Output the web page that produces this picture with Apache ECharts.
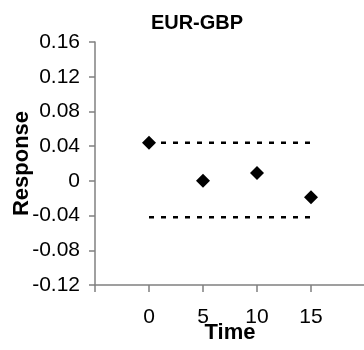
<!DOCTYPE html>
<html>
<head>
<meta charset="utf-8">
<script src="https://cdn.jsdelivr.net/npm/echarts@6/dist/echarts.min.js"></script>
<style>
html,body{margin:0;padding:0;background:#fff;}
#chart{width:364px;height:350px;}
</style>
</head>
<body>
<div id="chart"></div>
<script>
// Data
var times = [0, 5, 10, 15];
var responses = [0.044, 0.0, 0.009, -0.019];
var upperBand = [0.044, 0.044];
var lowerBand = [-0.042, -0.042];
var bandTimes = [0, 15];
var yTicks = {min: -0.12, max: 0.16, step: 0.04};
var xTicks = {min: -5, max: 20, step: 5};

var FONT = '"Liberation Sans", Arial, sans-serif';
var chart = echarts.init(document.getElementById('chart'), null, {renderer: 'canvas'});

function pairs(xs, ys) { return xs.map(function (x, i) { return [x, ys[i]]; }); }

var option = {
  backgroundColor: '#fff',
  animation: false,
  title: {
    text: 'EUR-GBP',
    left: 192,
    top: 8,
    textAlign: 'center',
    textStyle: {fontFamily: FONT, fontSize: 20, fontWeight: 'bold', color: '#000'}
  },
  grid: {left: 95, top: 42, width: 270, height: 243, containLabel: false, outerBoundsMode: 'none'},
  xAxis: {
    type: 'value',
    min: xTicks.min, max: xTicks.max, interval: xTicks.step,
    name: 'Time',
    nameLocation: 'middle',
    nameGap: 37,
    nameMoveOverlap: false,
    nameTextStyle: {fontFamily: FONT, fontSize: 22, fontWeight: 'bold', color: '#000'},
    axisLine: {onZero: false, lineStyle: {color: '#808080', width: 1.5}},
    axisTick: {show: true, inside: false, length: 7, lineStyle: {color: '#808080', width: 1.5}},
    axisLabel: {
      margin: 22, fontFamily: FONT, fontSize: 21, color: '#000',
      showMinLabel: true, showMaxLabel: true,
      formatter: function (v) { return (v < 0 || v > 15) ? '' : String(v); }
    },
    splitLine: {show: false}
  },
  yAxis: {
    type: 'value',
    min: yTicks.min, max: yTicks.max, interval: yTicks.step,
    name: 'Response',
    nameLocation: 'middle',
    nameRotate: 90,
    nameGap: 62,
    nameMoveOverlap: false,
    nameTextStyle: {fontFamily: FONT, fontSize: 22, fontWeight: 'bold', color: '#000'},
    axisLine: {show: true, onZero: false, lineStyle: {color: '#808080', width: 1.5}},
    axisTick: {show: true, inside: false, length: 6, lineStyle: {color: '#808080', width: 1.5}},
    axisLabel: {
      margin: 15, fontFamily: FONT, fontSize: 21, color: '#000',
      formatter: function (v) { return Math.abs(v) < 1e-9 ? '0' : v.toFixed(2); }
    },
    splitLine: {show: false}
  },
  series: [
    {
      type: 'line', data: pairs(bandTimes, upperBand), symbol: 'none', silent: true,
      lineStyle: {color: '#000', width: 2.5, type: [5, 7]}
    },
    {
      type: 'line', data: pairs(bandTimes, lowerBand), symbol: 'none', silent: true,
      lineStyle: {color: '#000', width: 2.5, type: [5, 7]}
    },
    {
      type: 'scatter', data: pairs(times, responses), symbol: 'diamond', symbolSize: 14,
      itemStyle: {color: '#000', opacity: 1}, z: 5
    }
  ]
};
chart.setOption(option);
</script>
</body>
</html>
